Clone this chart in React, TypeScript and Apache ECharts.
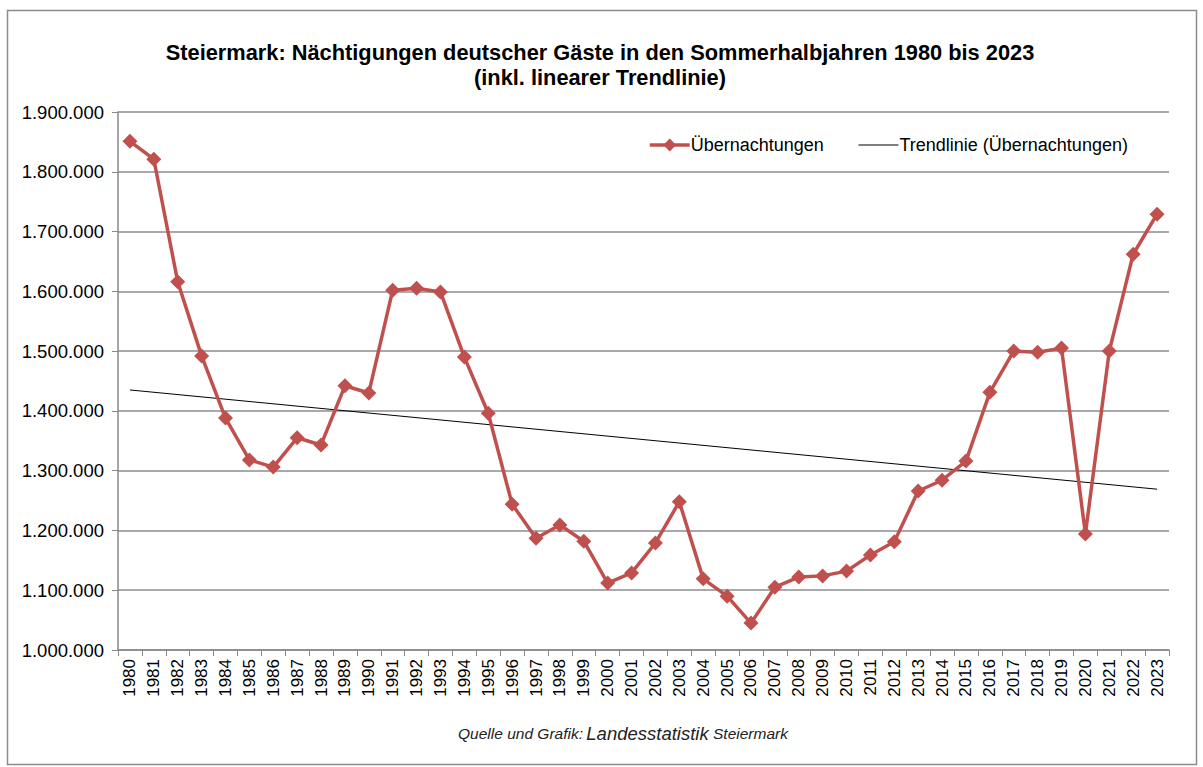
import React, { useEffect, useRef } from "react";
import * as echarts from "echarts";

const years = [
  "1980", "1981", "1982", "1983", "1984", "1985", "1986", "1987", "1988", "1989",
  "1990", "1991", "1992", "1993", "1994", "1995", "1996", "1997", "1998", "1999",
  "2000", "2001", "2002", "2003", "2004", "2005", "2006", "2007", "2008", "2009",
  "2010", "2011", "2012", "2013", "2014", "2015", "2016", "2017", "2018", "2019",
  "2020", "2021", "2022", "2023",
];

const uebernachtungen = [
  1851000, 1821000, 1616000, 1492000, 1388000, 1318000, 1306000, 1355000, 1343000, 1442000,
  1430000, 1602000, 1605000, 1599000, 1490000, 1396000, 1244000, 1187000, 1209000, 1182000,
  1112000, 1129000, 1179000, 1248000, 1119000, 1090000, 1045000, 1105000, 1122000, 1124000,
  1132000, 1159000, 1181000, 1266000, 1284000, 1316000, 1431000, 1500000, 1498000, 1505000,
  1194000, 1500000, 1662000, 1729000,
];

// Trend line end points (1980 and 2023)
const trendStart = 1435000;
const trendEnd = 1269000;

const yTicks = { min: 1000000, max: 1900000, interval: 100000 };

const title = "Steiermark: Nächtigungen deutscher Gäste in den Sommerhalbjahren 1980 bis 2023\n(inkl. linearer Trendlinie)";
const seriesName = "Übernachtungen";
const trendName = "Trendlinie (Übernachtungen)";

const fmt = (v: number) => String(v).replace(/\B(?=(\d{3})+(?!\d))/g, ".");

export default function App() {
  const ref = useRef<HTMLDivElement>(null);
  useEffect(() => {
    document.body.style.margin = "0";
    const chart = echarts.init(ref.current!, null, { renderer: "svg" });
    const trendData = years.map((_, i) =>
      i === 0 ? trendStart : i === years.length - 1 ? trendEnd : null
    );
    chart.setOption({
      animation: false,
      backgroundColor: "#ffffff",
      title: {
        text: title,
        left: 595,
        textAlign: "center",
        top: 35,
        textStyle: {
          fontFamily: "Liberation Sans, Arial, sans-serif",
          fontSize: 21.8,
          fontWeight: "bold",
          color: "#000",
          lineHeight: 25,
        },
      },
      graphic: [
        {
          type: "rect",
          shape: { x: 7.5, y: 10.5, width: 1189, height: 754 },
          style: { fill: "none", stroke: "#8c8c8c", lineWidth: 1.5 },
          silent: true,
          z: -1,
        },
        {
          type: "text",
          x: 623,
          y: 733,
          style: {
            text: "{s|Quelle und Grafik:} {b|Landesstatistik}{t| Steiermark}",
            align: "center",
            verticalAlign: "middle",
            rich: {
              s: { fontFamily: "Liberation Sans, sans-serif", fontStyle: "italic", fontSize: 15.5, fill: "#222" },
              b: { fontFamily: "Liberation Sans, sans-serif", fontStyle: "italic", fontSize: 18.5, fill: "#222" },
              t: { fontFamily: "Liberation Sans, sans-serif", fontStyle: "italic", fontSize: 15.5, fill: "#222" },
            },
          },
        },
      ],
      legend: {
        left: 643,
        top: 131,
        itemGap: 34,
        itemWidth: 40,
        itemHeight: 16,
        textStyle: {
          fontFamily: "Liberation Sans, Arial, sans-serif",
          fontSize: 18,
          color: "#000",
          padding: [0, 0, 0, -4],
        },
        data: [
          { name: seriesName, lineStyle: { width: 3.5, color: "#C0504D" } },
          { name: trendName, itemStyle: { opacity: 0 }, lineStyle: { width: 1.2, color: "#000" } },
        ],
      },
      grid: { left: 118, right: 34, top: 112, bottom: 117, containLabel: false },
      xAxis: {
        type: "category",
        data: years,
        boundaryGap: true,
        axisLine: { show: true, lineStyle: { color: "#888", width: 1.5 } },
        axisTick: { show: true, length: 6, lineStyle: { color: "#888" } },
        axisLabel: {
          rotate: 90,
          interval: 0,
          fontFamily: "Liberation Sans, Arial, sans-serif",
          fontSize: 17,
          color: "#000",
          margin: 9,
        },
      },
      yAxis: {
        type: "value",
        min: yTicks.min,
        max: yTicks.max,
        interval: yTicks.interval,
        axisLine: { show: true, lineStyle: { color: "#888", width: 1.5 } },
        axisTick: { show: true, length: 6, lineStyle: { color: "#888" } },
        splitLine: { show: true, lineStyle: { color: "#8c8c8c", width: 1.5 } },
        axisLabel: {
          formatter: (v: number) => fmt(v),
          fontFamily: "Liberation Sans, Arial, sans-serif",
          fontSize: 18.5,
          color: "#000",
          margin: 14,
        },
      },
      series: [
        {
          name: seriesName,
          type: "line",
          data: uebernachtungen,
          symbol: "diamond",
          symbolSize: 15,
          color: "#C0504D",
          lineStyle: { color: "#C0504D", width: 3.5 },
          itemStyle: { color: "#C0504D" },
          z: 3,
        },
        {
          name: trendName,
          type: "line",
          data: trendData,
          connectNulls: true,
          symbol: "none",
          color: "#000",
          lineStyle: { color: "#000", width: 1 },
          z: 2,
        },
      ],
    });
    return () => chart.dispose();
  }, []);
  return <div ref={ref} style={{ width: 1203, height: 767 }} />;
}
